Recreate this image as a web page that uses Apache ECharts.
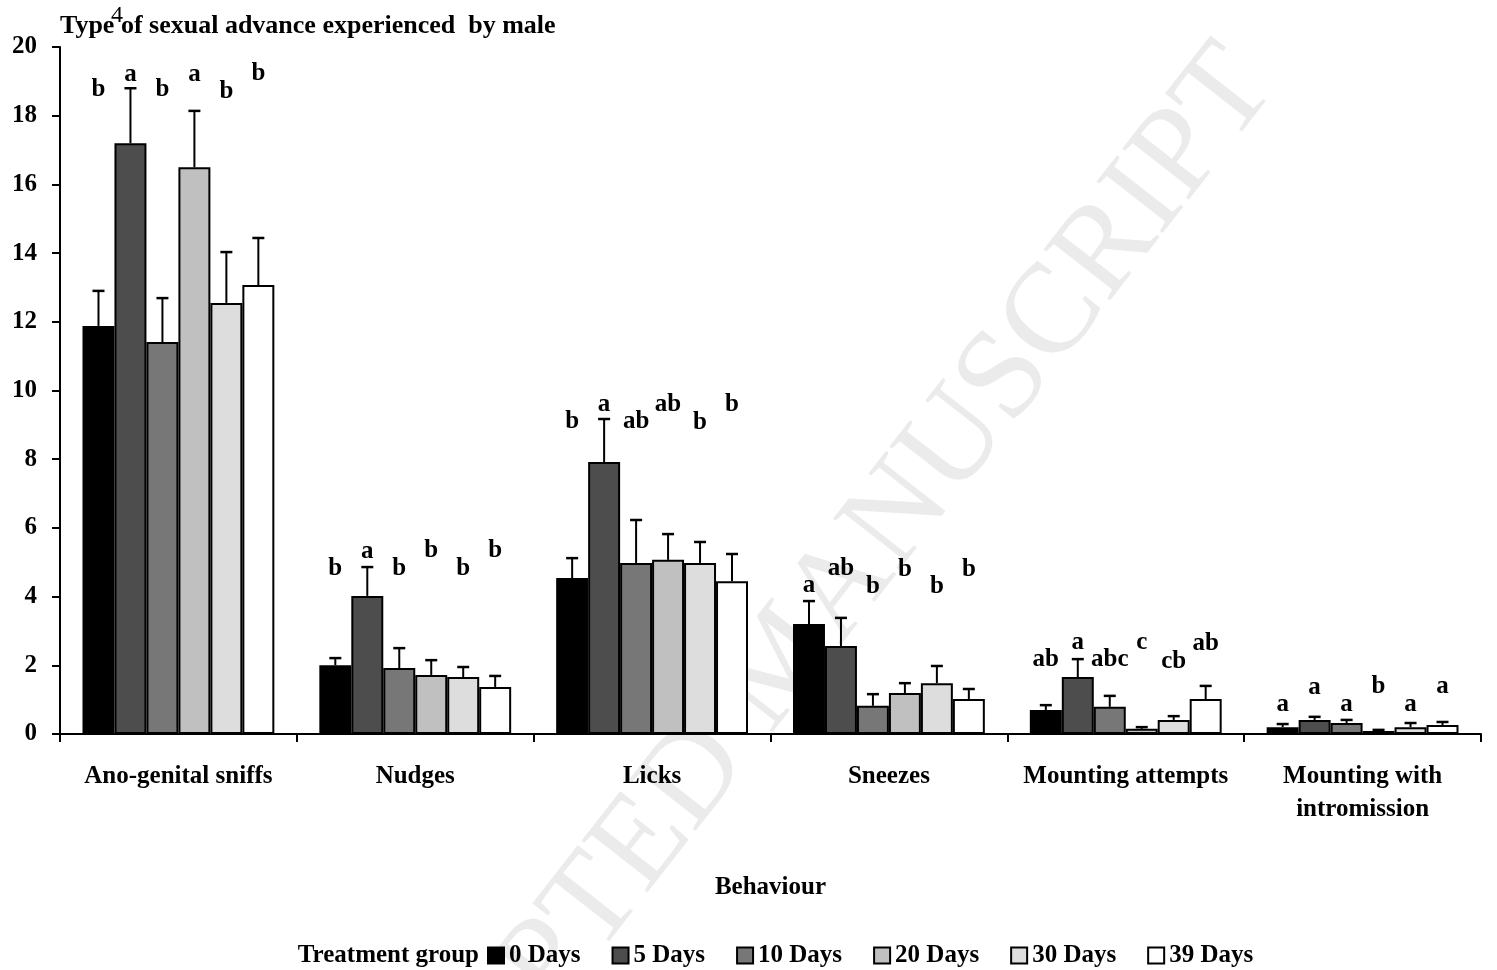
<!DOCTYPE html>
<html>
<head>
<meta charset="utf-8">
<script src="https://cdn.jsdelivr.net/npm/echarts@6/dist/echarts.min.js"></script>
<style>html,body{margin:0;padding:0;background:#fff;}#c{width:1497px;height:970px;}</style>
</head>
<body>
<div id="c"></div>
<script>
var categories = ['Ano-genital sniffs', 'Nudges', 'Licks', 'Sneezes', 'Mounting attempts', 'Mounting with\nintromission'];
var groups = ['0 Days', '5 Days', '10 Days', '20 Days', '30 Days', '39 Days'];
var yTicks = [0, 2, 4, 6, 8, 10, 12, 14, 16, 18, 20];

// means
var d0  = [11.88, 2.00, 4.54, 3.20, 0.70, 0.20];
var d5  = [17.20, 4.02, 7.92, 2.56, 1.66, 0.41];
var d10 = [11.41, 1.92, 4.98, 0.82, 0.79, 0.32];
var d20 = [16.50, 1.72, 5.07, 1.19, 0.15, 0.09];
var d30 = [12.55, 1.66, 4.98, 1.48, 0.41, 0.20];
var d39 = [13.07, 1.37, 4.45, 1.02, 1.02, 0.26];
// standard errors
var se0  = [1.02, 0.21, 0.58, 0.67, 0.14, 0.09];
var se5  = [1.60, 0.84, 1.25, 0.82, 0.52, 0.09];
var se10 = [1.28, 0.58, 1.25, 0.34, 0.32, 0.09];
var se20 = [1.64, 0.43, 0.75, 0.29, 0.05, 0.03];
var se30 = [1.48, 0.29, 0.61, 0.50, 0.11, 0.12];
var se39 = [1.37, 0.32, 0.79, 0.29, 0.38, 0.09];
// significance letters
var L0  = ['b', 'b', 'b', 'a', 'ab', 'a'];
var L5  = ['a', 'a', 'a', 'ab', 'a', 'a'];
var L10 = ['b', 'b', 'ab', 'b', 'abc', 'a'];
var L20 = ['a', 'b', 'ab', 'b', 'c', 'b'];
var L30 = ['b', 'b', 'b', 'b', 'cb', 'a'];
var L39 = ['b', 'b', 'b', 'b', 'ab', 'a'];
// letter baseline heights (value units)
var H0  = [18.54, 4.60, 8.88, 4.10, 1.95, 0.64];
var H5  = [18.98, 5.09, 9.37, 4.60, 2.45, 1.14];
var H10 = [18.54, 4.60, 8.88, 4.08, 1.95, 0.64];
var H20 = [18.98, 5.12, 9.37, 4.57, 2.45, 1.16];
var H30 = [18.49, 4.60, 8.85, 4.08, 1.89, 0.64];
var H39 = [19.01, 5.12, 9.37, 4.57, 2.42, 1.16];

var means = [d0, d5, d10, d20, d30, d39];
var ses = [se0, se5, se10, se20, se30, se39];
var letters = [L0, L5, L10, L20, L30, L39];
var heights = [H0, H5, H10, H20, H30, H39];
var colors = ['#000000', '#4d4d4d', '#777777', '#c0c0c0', '#dddddd', '#ffffff'];

var FONT = '"Liberation Serif", "Times New Roman", serif';
var CAT_GAP = 0.19;

function barX(api, cat, s) {
  var band = api.size([1, 0])[0];
  var gw = band * (1 - CAT_GAP);
  var bw = gw / groups.length;
  return api.coord([cat, 0])[0] - gw / 2 + (s + 0.5) * bw;
}

var series = [];
groups.forEach(function (g, s) {
  series.push({
    name: g, type: 'bar', data: means[s],
    barGap: '0%', barCategoryGap: (CAT_GAP * 100) + '%',
    itemStyle: { color: colors[s], borderColor: '#000', borderWidth: 2 },
    z: 3
  });
});

var errData = [], letData = [], letText = [];
groups.forEach(function (g, s) {
  categories.forEach(function (c, i) {
    errData.push([i, s, means[s][i], means[s][i] + ses[s][i]]);
    letData.push([i, s, heights[s][i]]);
    letText.push(letters[s][i]);
  });
});

series.push({
  type: 'custom', name: 'err', z: 4,
  data: errData,
  renderItem: function (params, api) {
    var cat = api.value(0), s = api.value(1);
    var x = barX(api, cat, s);
    var y0 = api.coord([cat, api.value(2)])[1];
    var y1 = api.coord([cat, api.value(3)])[1];
    var cap = 6;
    return {
      type: 'group',
      children: [
        { type: 'line', shape: { x1: x, y1: y0, x2: x, y2: y1 }, style: { stroke: '#000', lineWidth: 2 } },
        { type: 'line', shape: { x1: x - cap, y1: y1, x2: x + cap, y2: y1 }, style: { stroke: '#000', lineWidth: 2.5 } }
      ]
    };
  },
  silent: true
});

series.push({
  type: 'custom', name: 'letters', z: 5,
  data: letData,
  renderItem: function (params, api) {
    var cat = api.value(0), s = api.value(1);
    var x = barX(api, cat, s);
    var y = api.coord([cat, api.value(2)])[1];
    return {
      type: 'text', x: x, y: y + 5,
      style: { text: letText[params.dataIndex], font: 'bold 25px ' + FONT, fill: '#000', align: 'center', verticalAlign: 'bottom' }
    };
  },
  silent: true
});

var chart = echarts.init(document.getElementById('c'));
chart.setOption({
  animation: false,
  backgroundColor: '#fff',
  grid: { left: 60, right: 16, top: 47, bottom: 236, containLabel: false },
  xAxis: {
    type: 'category', data: categories,
    name: 'Behaviour', nameLocation: 'middle', nameGap: 141,
    nameTextStyle: { fontFamily: FONT, fontWeight: 'bold', fontSize: 25, color: '#000' },
    axisLine: { lineStyle: { color: '#000', width: 2 } },
    axisTick: { show: true, length: 8, lineStyle: { color: '#000', width: 2 } },
    axisLabel: { margin: 26, fontFamily: FONT, fontWeight: 'bold', fontSize: 25, color: '#000', lineHeight: 33, interval: 0 }
  },
  yAxis: {
    type: 'value', min: 0, max: 20, interval: 2,
    splitLine: { show: false },
    axisLine: { show: true, lineStyle: { color: '#000', width: 2 } },
    axisTick: { show: true, length: 8, lineStyle: { color: '#000', width: 2 } },
    axisLabel: { margin: 23, fontFamily: FONT, fontWeight: 'bold', fontSize: 25, color: '#000',
      formatter: function (v) { return yTicks.indexOf(v) >= 0 ? String(v) : ''; } }
  },
  legend: {
    data: groups, left: 482, top: 938, itemWidth: 16, itemHeight: 16, itemGap: 31,
    icon: 'rect',
    itemStyle: { borderColor: '#000', borderWidth: 2 },
    textStyle: { fontFamily: FONT, fontWeight: 'bold', fontSize: 25, color: '#000', padding: [0, 0, 0, 0] }
  },
  graphic: [
    { type: 'text', z: 0, x: 784, y: 663, rotation: 52 * Math.PI / 180,
      style: { text: 'ACCEPTED MANUSCRIPT', font: 'normal 128px ' + FONT, fill: '#ebebeb', align: 'center', verticalAlign: 'middle' } },
    { type: 'text', z: 10, x: 60, y: 26,
      style: { text: 'Type of sexual advance experienced  by male', font: 'bold 26px ' + FONT, fill: '#000', align: 'left', verticalAlign: 'middle' } },
    { type: 'text', z: 11, x: 117, y: 16,
      style: { text: '4', font: 'normal 24px ' + FONT, fill: '#000', align: 'center', verticalAlign: 'middle' } },
    { type: 'text', z: 10, x: 479, y: 956,
      style: { text: 'Treatment group', font: 'bold 25px ' + FONT, fill: '#000', align: 'right', verticalAlign: 'middle' } }
  ],
  series: series
});
</script>
</body>
</html>
